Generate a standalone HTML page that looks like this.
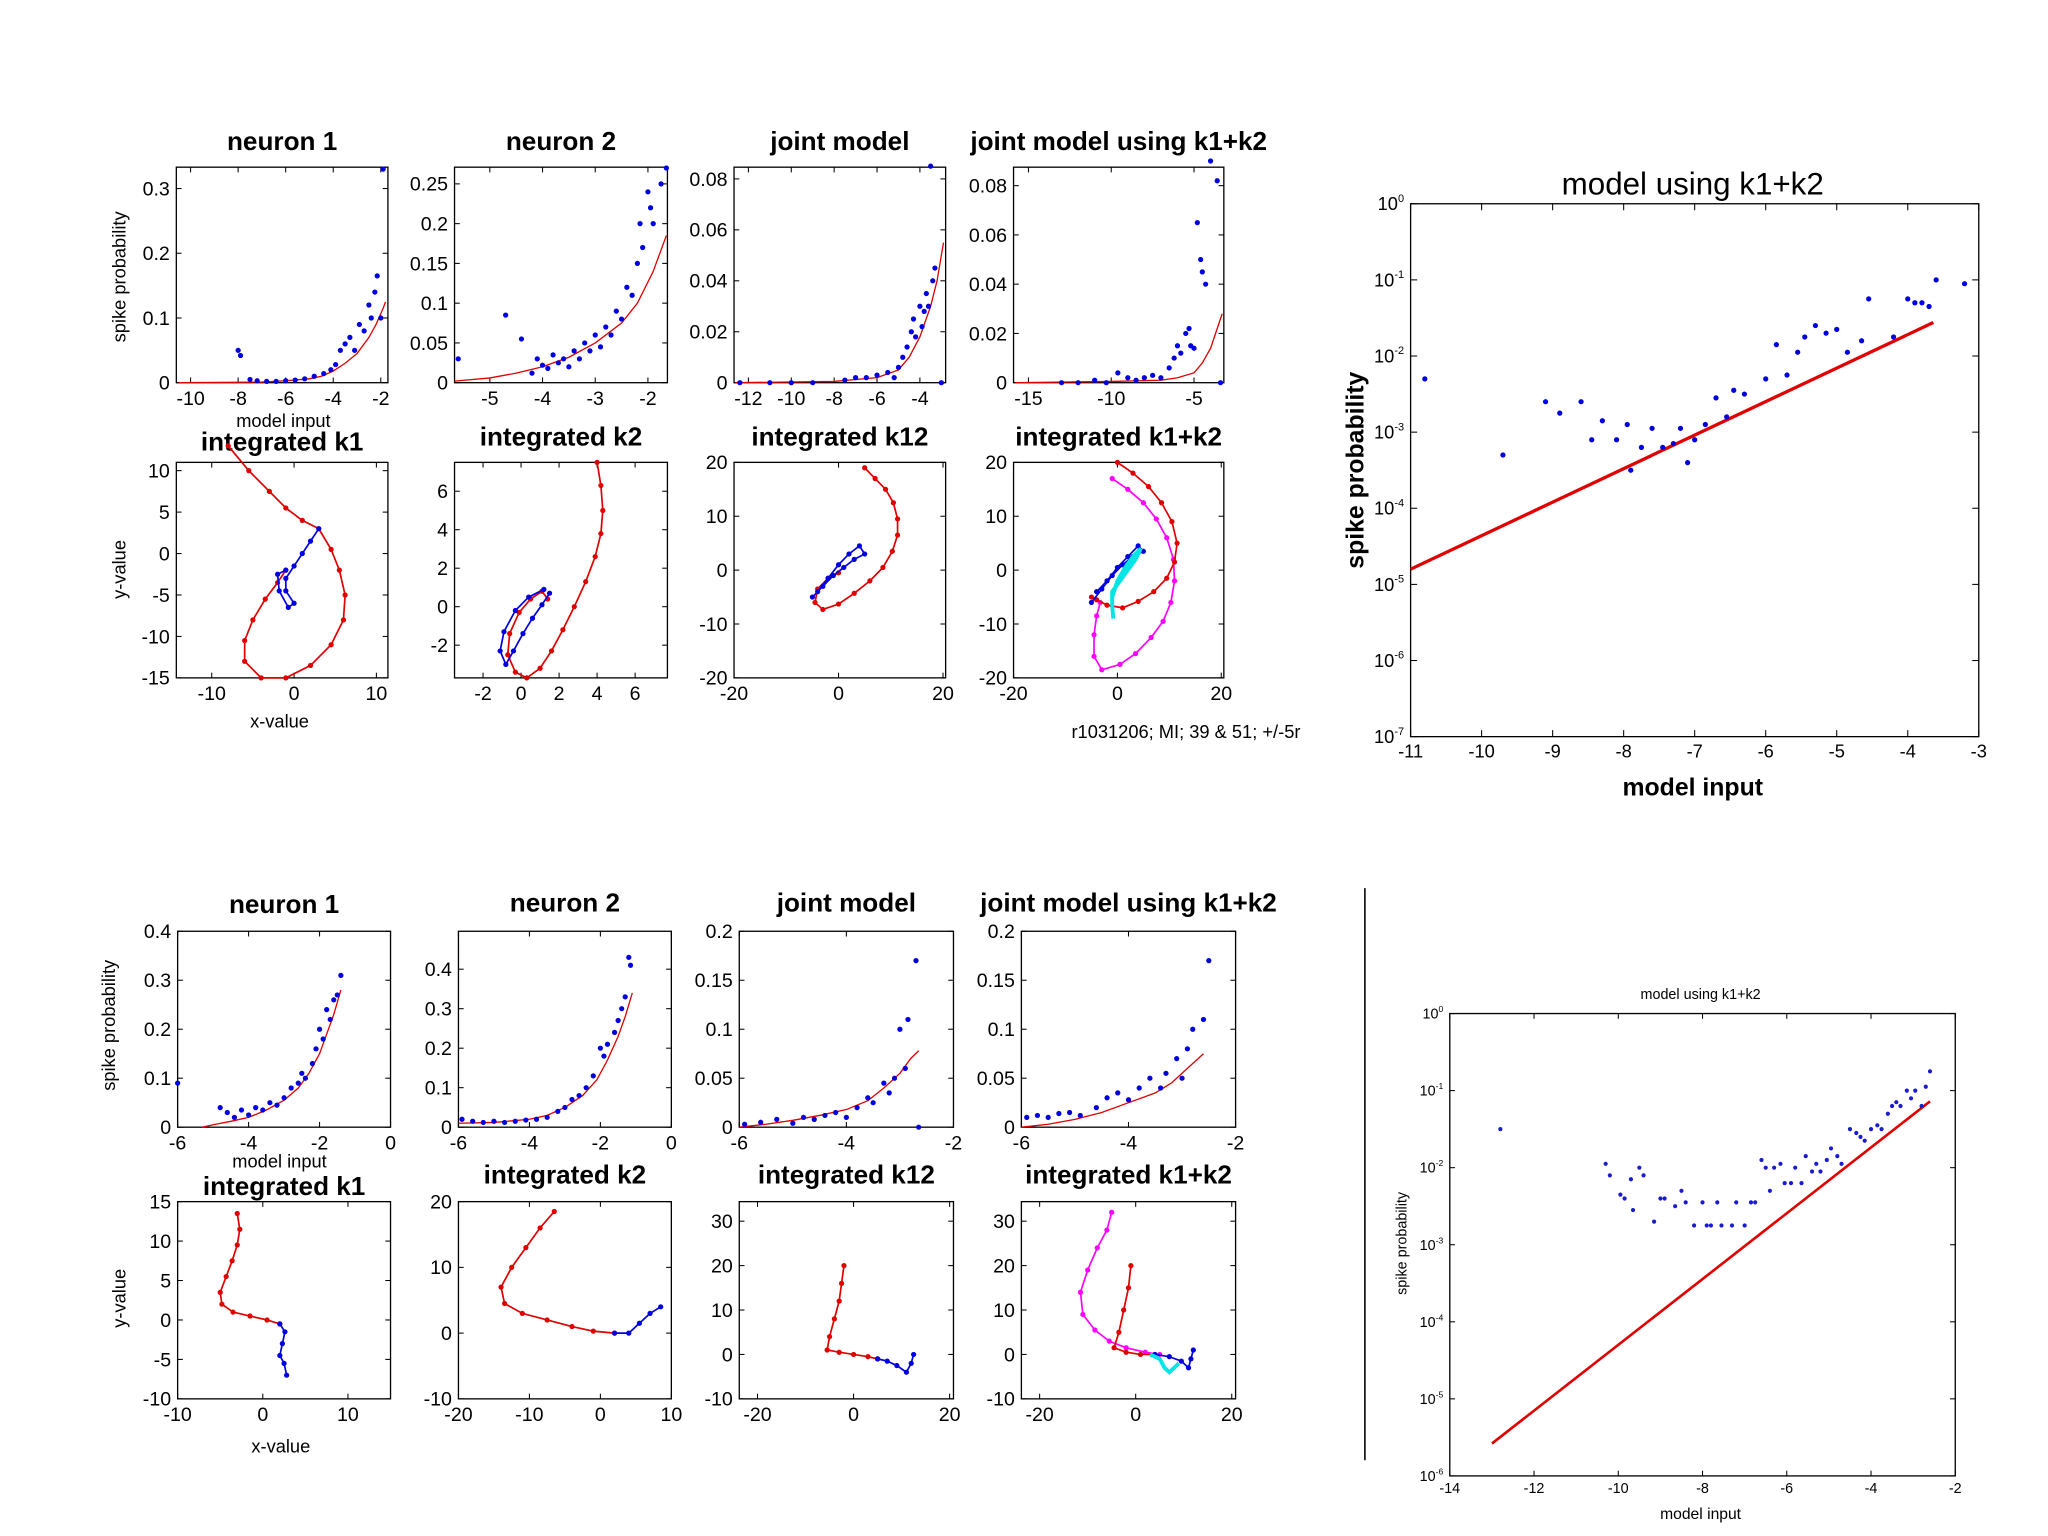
<!DOCTYPE html>
<html><head><meta charset="utf-8"><style>
html,body{margin:0;padding:0;background:#fff}
svg{display:block}
text{font-family:"Liberation Sans",sans-serif;fill:#000}
</style></head><body>
<svg id="fig" width="2048" height="1536" viewBox="0 0 1568 1176" xmlns="http://www.w3.org/2000/svg">
<rect width="1568" height="1176" fill="#fff"/>
<line x1="1045" y1="680" x2="1045" y2="1118" stroke="#000" stroke-width="1.2"/>
<text x="217" y="327" font-size="14" text-anchor="middle">model input</text>
<text transform="translate(96,212) rotate(-90)" font-size="14" text-anchor="middle">spike probability</text>
<text transform="translate(96,436) rotate(-90)" font-size="14" text-anchor="middle">y-value</text>
<text x="214" y="557" font-size="14" text-anchor="middle">x-value</text>
<text x="908" y="565" font-size="14" text-anchor="middle">r1031206; MI; 39 &amp; 51; +/-5r</text>
<text x="1296" y="149" font-size="24" text-anchor="middle">model using k1+k2</text>
<text transform="translate(1044,360) rotate(-90)" font-size="19" font-weight="bold" text-anchor="middle">spike probability</text>
<text x="1296" y="609" font-size="19" font-weight="bold" text-anchor="middle">model input</text>
<text transform="translate(88,785) rotate(-90)" font-size="14" text-anchor="middle">spike probability</text>
<text x="214" y="894" font-size="14" text-anchor="middle">model input</text>
<text transform="translate(96,994) rotate(-90)" font-size="14" text-anchor="middle">y-value</text>
<text x="215" y="1112" font-size="14" text-anchor="middle">x-value</text>
<text x="1302" y="765" font-size="11" text-anchor="middle" fill="#333">model using k1+k2</text>
<text transform="translate(1077,952) rotate(-90)" font-size="11" text-anchor="middle">spike probability</text>
<text x="1302" y="1163" font-size="12" text-anchor="middle">model input</text>
</svg>
<script>
// ---------- data ----------
const t1Curve=[[-10.5,0],[-7,0.001],[-6,0.003],[-5,0.006],[-4.5,0.01],[-4,0.018],[-3.5,0.03],[-3,0.045],[-2.5,0.07],[-2.2,0.09],[-1.9,0.115],[-1.8,0.125]];
const t1Dots=[[-8,0.05],[-7.9,0.042],[-7.5,0.005],[-7.2,0.003],[-6.8,0.002],[-6.4,0.002],[-6,0.003],[-5.6,0.004],[-5.2,0.006],[-4.8,0.01],[-4.4,0.014],[-4.1,0.02],[-3.9,0.028],[-3.7,0.05],[-3.5,0.06],[-3.3,0.07],[-3.1,0.05],[-2.9,0.09],[-2.7,0.08],[-2.5,0.12],[-2.4,0.1],[-2.25,0.14],[-2.15,0.165],[-2.0,0.1],[-1.9,0.33]];
const t2Curve=[[-5.67,0.002],[-5,0.006],[-4.5,0.012],[-4,0.02],[-3.5,0.032],[-3,0.05],[-2.5,0.075],[-2.2,0.1],[-1.9,0.14],[-1.65,0.185]];
const t2Dots=[[-5.6,0.03],[-4.7,0.085],[-4.4,0.055],[-4.2,0.012],[-4.1,0.03],[-4.0,0.022],[-3.9,0.018],[-3.8,0.035],[-3.7,0.025],[-3.6,0.03],[-3.5,0.02],[-3.4,0.04],[-3.3,0.03],[-3.2,0.05],[-3.1,0.04],[-3.0,0.06],[-2.9,0.045],[-2.8,0.07],[-2.7,0.06],[-2.6,0.09],[-2.5,0.08],[-2.4,0.12],[-2.3,0.11],[-2.2,0.15],[-2.15,0.2],[-2.1,0.17],[-2.0,0.24],[-1.95,0.22],[-1.9,0.2],[-1.75,0.25],[-1.65,0.27]];
const t3Curve=[[-12.6,0],[-8,0.0005],[-6,0.002],[-5,0.005],[-4.5,0.01],[-4,0.018],[-3.5,0.03],[-3.2,0.04],[-2.9,0.055]];
const t3Dots=[[-12.4,0],[-11,0],[-10,0],[-9,0],[-7.5,0.001],[-7,0.002],[-6.5,0.002],[-6,0.003],[-5.5,0.004],[-5.2,0.002],[-5,0.006],[-4.8,0.01],[-4.6,0.014],[-4.4,0.02],[-4.3,0.025],[-4.2,0.018],[-4.0,0.03],[-3.9,0.022],[-3.8,0.028],[-3.7,0.035],[-3.6,0.03],[-3.4,0.04],[-3.3,0.045],[-3.5,0.085],[-3.0,0]];
const t4Curve=[[-15.8,0],[-10,0.0005],[-7,0.001],[-6,0.002],[-5,0.004],[-4.5,0.008],[-4,0.014],[-3.6,0.022],[-3.3,0.028]];
const t4Dots=[[-13,0],[-12,0],[-11,0.001],[-10.3,0],[-9.6,0.004],[-9,0.002],[-8.5,0.001],[-8,0.002],[-7.5,0.003],[-7,0.002],[-6.5,0.006],[-6.2,0.01],[-6,0.015],[-5.8,0.012],[-5.5,0.02],[-5.3,0.022],[-5.2,0.015],[-5.0,0.014],[-4.8,0.065],[-4.6,0.05],[-4.5,0.045],[-4.3,0.04],[-4.0,0.09],[-3.6,0.082],[-3.4,0]];
const tk1Red=[[-8,13],[-5.5,10],[-3,7.5],[-1,5.5],[1,4],[3,3],[4.5,0.5],[5.5,-2],[6.2,-5],[6,-8],[4.5,-11],[2,-13.5],[-1,-15],[-4,-15],[-6,-13],[-6,-10.5],[-5,-8],[-3.5,-5.5],[-2,-3.5],[-1,-2]];
const tk1Blue=[[3,3],[2,1.5],[1,0],[0,-1.5],[-1,-3],[-1,-4.5],[0,-6],[-0.7,-6.5],[-1.8,-4.5],[-2,-2.5],[-1,-2]];
const tk2Red=[[4,7.5],[4.2,6.3],[4.3,5],[4.2,3.8],[3.9,2.6],[3.4,1.3],[2.8,0],[2.2,-1.2],[1.6,-2.3],[1,-3.2],[0.3,-3.7],[-0.3,-3.4],[-0.7,-2.5],[-0.6,-1.4],[-0.1,-0.3],[0.5,0.4],[1.1,0.8],[1.4,0.4]];
const tk2Blue=[[1.5,0.7],[1.1,0.1],[0.6,-0.6],[0.1,-1.4],[-0.4,-2.3],[-0.8,-3],[-1.1,-2.3],[-0.9,-1.3],[-0.3,-0.2],[0.4,0.5],[1.2,0.9]];
const tk12Red=[[5,19],[7,17],[9,15],[10.5,12.5],[11.3,9.5],[11.3,6.5],[10.3,3.5],[8.5,0.5],[6,-2],[3,-4.3],[0,-6.3],[-3,-7.3],[-4.5,-6],[-4,-3.5],[-2,-1.5],[0,-0.5]];
const tk12Blue=[[-5,-5],[-3,-3],[-1,-1],[1,0.5],[3,2],[5,3],[4,4.5],[2,3],[0,1],[-2,-1.5],[-4,-4]];
const tk1k2Mag=[[-1,17],[2,15],[5,12.5],[7.5,9.5],[9.5,6],[10.8,2],[11,-2],[10.3,-6],[8.8,-9.5],[6.5,-12.5],[3.5,-15.5],[0.5,-17.5],[-3,-18.5],[-4.5,-16],[-4.5,-12],[-4,-8.5],[-3.3,-6]];
const tk1k2Red=[[0,20],[3,18],[6,15.5],[8.5,12.5],[10.5,9],[11.5,5],[11,1.5],[9.5,-1.5],[7,-4],[4,-5.8],[1,-7],[-2,-6.5],[-4,-5.5],[-5,-5]];
const tk1k2Blue=[[-5,-6],[-3,-3.5],[-1,-1],[1,1],[3,2.5],[5,3.5],[4,4.5],[2,2.5],[0,0.5],[-2,-2],[-4,-4]];
const tk1k2Cyan=[[-1,-5],[0,-2],[1.5,0.5],[3,2.5],[4.5,4],[3.5,2],[2,0],[0.5,-2],[-1,-4],[-1,-6.5],[-0.8,-9]];
const bigTopLine=[[-11,-4.8],[-3.64,-1.56]];
const bigTopDots=[[-10.8,-2.3],[-9.7,-3.3],[-9.1,-2.6],[-8.9,-2.75],[-8.6,-2.6],[-8.45,-3.1],[-8.3,-2.85],[-8.1,-3.1],[-7.95,-2.9],[-7.9,-3.5],[-7.75,-3.2],[-7.6,-2.95],[-7.45,-3.2],[-7.3,-3.15],[-7.2,-2.95],[-7.1,-3.4],[-7.0,-3.1],[-6.85,-2.9],[-6.7,-2.55],[-6.55,-2.8],[-6.45,-2.45],[-6.3,-2.5],[-6.0,-2.3],[-5.85,-1.85],[-5.7,-2.25],[-5.55,-1.95],[-5.45,-1.75],[-5.3,-1.6],[-5.15,-1.7],[-5.0,-1.65],[-4.85,-1.95],[-4.65,-1.8],[-4.55,-1.25],[-4.2,-1.75],[-4.0,-1.25],[-3.9,-1.3],[-3.8,-1.3],[-3.7,-1.35],[-3.6,-1.0],[-3.2,-1.05]];
const b1Curve=[[-5.3,0],[-5,0.005],[-4.5,0.012],[-4,0.02],[-3.5,0.035],[-3,0.055],[-2.6,0.08],[-2.3,0.11],[-2,0.15],[-1.8,0.19],[-1.6,0.23],[-1.4,0.28]];
const b1Dots=[[-6,0.09],[-4.8,0.04],[-4.6,0.03],[-4.4,0.02],[-4.2,0.035],[-4.0,0.025],[-3.8,0.04],[-3.6,0.035],[-3.4,0.05],[-3.2,0.045],[-3.0,0.06],[-2.8,0.08],[-2.6,0.09],[-2.5,0.11],[-2.4,0.1],[-2.2,0.13],[-2.1,0.16],[-2.0,0.2],[-1.9,0.18],[-1.8,0.24],[-1.7,0.22],[-1.6,0.26],[-1.5,0.27],[-1.4,0.31]];
const b2Curve=[[-6,0.01],[-5,0.012],[-4,0.02],[-3.5,0.03],[-3,0.05],[-2.5,0.08],[-2.1,0.12],[-1.8,0.17],[-1.5,0.23],[-1.3,0.28],[-1.1,0.34]];
const b2Dots=[[-5.9,0.02],[-5.6,0.015],[-5.3,0.012],[-5,0.015],[-4.7,0.012],[-4.4,0.015],[-4.1,0.018],[-3.8,0.02],[-3.5,0.025],[-3.2,0.04],[-3.0,0.05],[-2.8,0.07],[-2.6,0.08],[-2.4,0.1],[-2.2,0.13],[-2.0,0.2],[-1.9,0.18],[-1.8,0.21],[-1.6,0.24],[-1.5,0.27],[-1.4,0.3],[-1.3,0.33],[-1.2,0.43],[-1.15,0.41]];
const b3Curve=[[-6,0],[-5.5,0.003],[-5,0.007],[-4.5,0.012],[-4,0.018],[-3.6,0.027],[-3.3,0.04],[-3.0,0.055],[-2.8,0.07],[-2.65,0.078]];
const b3Dots=[[-5.9,0.003],[-5.6,0.005],[-5.3,0.008],[-5,0.004],[-4.8,0.01],[-4.6,0.008],[-4.4,0.012],[-4.2,0.015],[-4,0.01],[-3.8,0.02],[-3.6,0.03],[-3.5,0.025],[-3.3,0.045],[-3.2,0.035],[-3.1,0.05],[-3.0,0.1],[-2.9,0.06],[-2.85,0.11],[-2.7,0.17],[-2.65,0]];
const b4Curve=[[-6,0],[-5.5,0.003],[-5,0.008],[-4.5,0.015],[-4,0.025],[-3.5,0.035],[-3.2,0.045],[-2.9,0.06],[-2.6,0.075]];
const b4Dots=[[-5.9,0.01],[-5.7,0.012],[-5.5,0.01],[-5.3,0.014],[-5.1,0.015],[-4.9,0.012],[-4.6,0.02],[-4.4,0.03],[-4.2,0.035],[-4.0,0.028],[-3.8,0.04],[-3.6,0.05],[-3.4,0.04],[-3.3,0.055],[-3.1,0.07],[-3.0,0.05],[-2.9,0.08],[-2.8,0.1],[-2.6,0.11],[-2.5,0.17]];
const bk1Red=[[-3,13.5],[-2.7,11.5],[-3,9.5],[-3.6,7.5],[-4.3,5.5],[-5,3.5],[-4.8,2],[-3.5,1],[-1.5,0.5],[0.5,0],[2,-0.5]];
const bk1Blue=[[2,-0.5],[2.6,-1.5],[2.3,-3],[2,-4.5],[2.5,-5.5],[2.8,-7]];
const bk2Red=[[-6.5,18.5],[-8.5,16],[-10.5,13],[-12.5,10],[-14,7],[-13.5,4.5],[-11,3],[-7.5,2],[-4,1],[-1,0.3],[2,0]];
const bk2Blue=[[2,0],[4,0],[5.5,1.5],[7,3],[8.5,4]];
const bk12Red=[[-2,20],[-2.5,16],[-3,12],[-4,8],[-5,4],[-5.5,1],[-3,0.5],[0,0],[3,-0.5],[5,-1]];
const bk12Blue=[[5,-1],[7,-1.5],[9,-2.5],[11,-4],[12,-2],[12.5,0]];
const bk1k2Mag=[[-5,32],[-6,28],[-8,24],[-10,19],[-11.5,14],[-11,9],[-8.5,5.5],[-5.5,3],[-2,1.5],[2,0.5],[5,0]];
const bk1k2Red=[[-1,20],[-1.5,15],[-2.5,10],[-3.5,5],[-4.5,1.5],[-2,0.5],[1,0],[4,0]];
const bk1k2Blue=[[4,0],[7,-0.5],[9.5,-1.5],[11,-3],[11.5,-1],[12,1]];
const bk1k2Cyan=[[3,0],[5,-1],[6,-3],[7,-4],[8,-3],[9,-2]];
const bigBotLine=[[-13,-5.58],[-2.6,-1.14]];
const bigBotDots=[[-12.8,-1.5],[-10.3,-1.95],[-10.2,-2.1],[-9.95,-2.35],[-9.85,-2.4],[-9.7,-2.15],[-9.65,-2.55],[-9.5,-2.0],[-9.4,-2.1],[-9.15,-2.7],[-9.0,-2.4],[-8.9,-2.4],[-8.65,-2.5],[-8.5,-2.3],[-8.4,-2.45],[-8.2,-2.75],[-8.0,-2.45],[-7.9,-2.75],[-7.8,-2.75],[-7.65,-2.45],[-7.55,-2.75],[-7.3,-2.75],[-7.2,-2.45],[-7.0,-2.75],[-6.85,-2.45],[-6.75,-2.45],[-6.6,-1.9],[-6.5,-2.0],[-6.4,-2.3],[-6.3,-2.0],[-6.15,-1.95],[-6.05,-2.2],[-5.9,-2.2],[-5.8,-2.0],[-5.65,-2.2],[-5.55,-1.85],[-5.4,-2.05],[-5.3,-1.95],[-5.2,-2.05],[-5.05,-1.9],[-4.95,-1.75],[-4.8,-1.85],[-4.7,-1.95],[-4.5,-1.5],[-4.35,-1.55],[-4.25,-1.6],[-4.15,-1.65],[-4.0,-1.5],[-3.85,-1.45],[-3.75,-1.5],[-3.6,-1.3],[-3.5,-1.2],[-3.4,-1.15],[-3.3,-1.2],[-3.15,-1.0],[-3.05,-1.1],[-2.95,-1.0],[-2.8,-1.2],[-2.7,-0.95],[-2.6,-0.75]];

// ---------- drawing ----------
const NS='http://www.w3.org/2000/svg';
const svg=document.getElementById('fig');
function el(tag,attrs,parent){const e=document.createElementNS(NS,tag);for(const k in attrs)e.setAttribute(k,attrs[k]);(parent||svg).appendChild(e);return e;}
function axes(c){
  const g=el('g',{});
  
  
  const sx=v=>c.x0+(v-c.xmin)/(c.xmax-c.xmin)*(c.x1-c.x0);
  const sy=v=>c.y1-(v-c.ymin)/(c.ymax-c.ymin)*(c.y1-c.y0);
  const fs=c.fs||15;
  const rect=el('rect',{x:c.x0,y:c.y0,width:c.x1-c.x0,height:c.y1-c.y0,fill:'none',stroke:'#000','stroke-width':1},g);
  
  
  const tl=c.tl||4;
  c.xt.forEach(v=>{const x=sx(v);
    el('line',{x1:x,y1:c.y1,x2:x,y2:c.y1-tl,stroke:'#000','stroke-width':0.8},g);
    el('line',{x1:x,y1:c.y0,x2:x,y2:c.y0+tl,stroke:'#000','stroke-width':0.8},g);
    const t=el('text',{x:x,y:c.y1+fs+2,'font-size':fs,'text-anchor':'middle'},g);
    
    
    t.textContent=String(v);});
  c.yt.forEach(v=>{const y=sy(v);
    el('line',{x1:c.x0,y1:y,x2:c.x0+tl,y2:y,stroke:'#000','stroke-width':0.8},g);
    el('line',{x1:c.x1,y1:y,x2:c.x1-tl,y2:y,stroke:'#000','stroke-width':0.8},g);
    const t=el('text',{x:c.x0-5,y:y+fs*0.35,'font-size':fs,'text-anchor':'end'},g);
    
    
    if(c.log){t.textContent='10';const s=el('tspan',{dy:-fs*0.45,'font-size':fs*0.6},t);s.textContent=String(v);}
    else t.textContent=String(v);});
  if(c.title){const t=el('text',{x:(c.x0+c.x1)/2,y:c.ty,'font-size':c.tfs||20,'font-weight':'bold','text-anchor':'middle'},g);
    
    
    t.textContent=c.title;}
  return {g,sx,sy};
}
function line(a,pts,color,w,name){const p=el('polyline',{points:pts.map(d=>a.sx(d[0])+','+a.sy(d[1])).join(' '),fill:'none',stroke:color,'stroke-width':w||1.2},a.g);
  
  }
function dots(a,pts,color,r,name){const g=el('g',{fill:color},a.g);
  
  
  pts.forEach(d=>el('circle',{cx:a.sx(d[0]),cy:a.sy(d[1]),r:r||2},g));}
function traj(a,pts,color,name){line(a,pts,color,1.3,name+'-line');dots(a,pts,color,2,name+'-points');}

let a;
// top row 1
a=axes({name:'top-neuron1-panel',x0:135,x1:297,y0:128,y1:293,xmin:-10.6,xmax:-1.7,ymin:0,ymax:0.333,xt:[-10,-8,-6,-4,-2],yt:[0,0.1,0.2,0.3],title:'neuron 1',ty:115});
line(a,t1Curve,'#e00000',1,'model-curve');dots(a,t1Dots,'#0000e0',2,'data-points');
a=axes({name:'top-neuron2-panel',x0:348,x1:511,y0:128,y1:293,xmin:-5.67,xmax:-1.63,ymin:0,ymax:0.271,xt:[-5,-4,-3,-2],yt:[0,0.05,0.1,0.15,0.2,0.25],title:'neuron 2',ty:115});
line(a,t2Curve,'#e00000',1,'model-curve');dots(a,t2Dots,'#0000e0',2,'data-points');
a=axes({name:'top-joint-panel',x0:562,x1:724,y0:128,y1:293,xmin:-12.67,xmax:-2.8,ymin:0,ymax:0.0846,xt:[-12,-10,-8,-6,-4],yt:[0,0.02,0.04,0.06,0.08],title:'joint model',ty:115});
line(a,t3Curve,'#e00000',1,'model-curve');dots(a,t3Dots,'#0000e0',2,'data-points');
a=axes({name:'top-joint-k1k2-panel',x0:776,x1:937,y0:128,y1:293,xmin:-15.9,xmax:-3.2,ymin:0,ymax:0.0875,xt:[-15,-10,-5],yt:[0,0.02,0.04,0.06,0.08],title:'joint model using k1+k2',ty:115});
line(a,t4Curve,'#e00000',1,'model-curve');dots(a,t4Dots,'#0000e0',2,'data-points');
// top row 2
a=axes({name:'top-int-k1-panel',x0:135,x1:297,y0:354,y1:519,xmin:-14.3,xmax:11.4,ymin:-15,ymax:11,xt:[-10,0,10],yt:[-15,-10,-5,0,5,10],title:'integrated k1',ty:345});
traj(a,tk1Red,'#e00000','red-trajectory');traj(a,tk1Blue,'#0000e0','blue-trajectory');
a=axes({name:'top-int-k2-panel',x0:348,x1:511,y0:354,y1:519,xmin:-3.5,xmax:7.7,ymin:-3.7,ymax:7.5,xt:[-2,0,2,4,6],yt:[-2,0,2,4,6],title:'integrated k2',ty:341});
traj(a,tk2Red,'#e00000','red-trajectory');traj(a,tk2Blue,'#0000e0','blue-trajectory');
a=axes({name:'top-int-k12-panel',x0:562,x1:724,y0:354,y1:519,xmin:-20,xmax:20.5,ymin:-20,ymax:20,xt:[-20,0,20],yt:[-20,-10,0,10,20],title:'integrated k12',ty:341});
traj(a,tk12Red,'#e00000','red-trajectory');traj(a,tk12Blue,'#0000e0','blue-trajectory');
a=axes({name:'top-int-k1k2-panel',x0:776,x1:937,y0:354,y1:519,xmin:-20,xmax:20.5,ymin:-20,ymax:20,xt:[-20,0,20],yt:[-20,-10,0,10,20],title:'integrated k1+k2',ty:341});
traj(a,tk1k2Mag,'#ff00ff','magenta-trajectory');traj(a,tk1k2Red,'#e00000','red-trajectory');traj(a,tk1k2Blue,'#0000e0','blue-trajectory');
line(a,tk1k2Cyan,'#00e5e5',3,'cyan-trajectory');
// big top right
a=axes({name:'big-log-panel-top',x0:1080,x1:1515,y0:156,y1:564,xmin:-11,xmax:-3,ymin:-7,ymax:0,xt:[-11,-10,-9,-8,-7,-6,-5,-4,-3],yt:[-7,-6,-5,-4,-3,-2,-1,0],log:true,fs:14,tl:5});
line(a,bigTopLine,'#e00000',2.5,'model-line');dots(a,bigTopDots,'#0000e0',2,'data-points');
// bottom row 1
a=axes({name:'bot-neuron1-panel',x0:136,x1:299,y0:713,y1:863,xmin:-6,xmax:0,ymin:0,ymax:0.4,xt:[-6,-4,-2,0],yt:[0,0.1,0.2,0.3,0.4],title:'neuron 1',ty:699});
line(a,b1Curve,'#e00000',1,'model-curve');dots(a,b1Dots,'#0000e0',2,'data-points');
a=axes({name:'bot-neuron2-panel',x0:351,x1:514,y0:713,y1:863,xmin:-6,xmax:0,ymin:0,ymax:0.496,xt:[-6,-4,-2,0],yt:[0,0.1,0.2,0.3,0.4],title:'neuron 2',ty:698});
line(a,b2Curve,'#e00000',1,'model-curve');dots(a,b2Dots,'#0000e0',2,'data-points');
a=axes({name:'bot-joint-panel',x0:566,x1:730,y0:713,y1:863,xmin:-6,xmax:-2,ymin:0,ymax:0.2,xt:[-6,-4,-2],yt:[0,0.05,0.1,0.15,0.2],title:'joint model',ty:698});
line(a,b3Curve,'#e00000',1,'model-curve');dots(a,b3Dots,'#0000e0',2,'data-points');
a=axes({name:'bot-joint-k1k2-panel',x0:782,x1:946,y0:713,y1:863,xmin:-6,xmax:-2,ymin:0,ymax:0.2,xt:[-6,-4,-2],yt:[0,0.05,0.1,0.15,0.2],title:'joint model using k1+k2',ty:698});
line(a,b4Curve,'#e00000',1,'model-curve');dots(a,b4Dots,'#0000e0',2,'data-points');
// bottom row 2
a=axes({name:'bot-int-k1-panel',x0:136,x1:299,y0:920,y1:1071,xmin:-10,xmax:15,ymin:-10,ymax:15,xt:[-10,0,10],yt:[-10,-5,0,5,10,15],title:'integrated k1',ty:915});
traj(a,bk1Red,'#e00000','red-trajectory');traj(a,bk1Blue,'#0000e0','blue-trajectory');
a=axes({name:'bot-int-k2-panel',x0:351,x1:514,y0:920,y1:1071,xmin:-20,xmax:10,ymin:-10,ymax:20,xt:[-20,-10,0,10],yt:[-10,0,10,20],title:'integrated k2',ty:906});
traj(a,bk2Red,'#e00000','red-trajectory');traj(a,bk2Blue,'#0000e0','blue-trajectory');
a=axes({name:'bot-int-k12-panel',x0:566,x1:730,y0:920,y1:1071,xmin:-23.8,xmax:20.8,ymin:-10,ymax:34.4,xt:[-20,0,20],yt:[-10,0,10,20,30],title:'integrated k12',ty:906});
traj(a,bk12Red,'#e00000','red-trajectory');traj(a,bk12Blue,'#0000e0','blue-trajectory');
a=axes({name:'bot-int-k1k2-panel',x0:782,x1:946,y0:920,y1:1071,xmin:-23.8,xmax:20.8,ymin:-10,ymax:34.4,xt:[-20,0,20],yt:[-10,0,10,20,30],title:'integrated k1+k2',ty:906});
traj(a,bk1k2Mag,'#ff00ff','magenta-trajectory');traj(a,bk1k2Red,'#e00000','red-trajectory');traj(a,bk1k2Blue,'#0000e0','blue-trajectory');
line(a,bk1k2Cyan,'#00e5e5',3,'cyan-trajectory');
// big bottom right
a=axes({name:'big-log-panel-bottom',x0:1110,x1:1497,y0:776,y1:1130,xmin:-14,xmax:-2,ymin:-6,ymax:0,xt:[-14,-12,-10,-8,-6,-4,-2],yt:[-6,-5,-4,-3,-2,-1,0],log:true,fs:11,tl:4});
line(a,bigBotLine,'#e00000',2,'model-line');dots(a,bigBotDots,'#1a1ad0',1.6,'data-points');
</script>
</body></html>
